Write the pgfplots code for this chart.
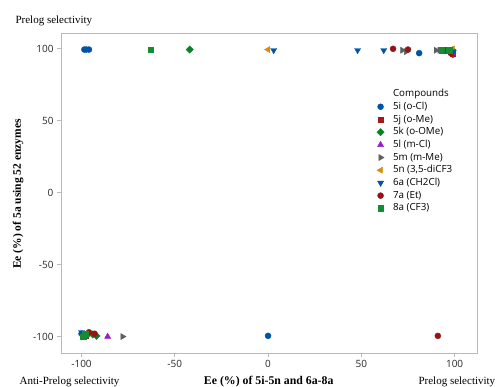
\documentclass[border=0pt]{standalone}
\usepackage{fontspec}
\setmainfont{Liberation Serif}
\newfontfamily\sff{Open Sans}
\usepackage{pgfplots}
\pgfplotsset{compat=1.18}
\definecolor{cblue}{RGB}{0,84,166}
\definecolor{cred}{RGB}{160,28,28}
\definecolor{cgreen}{RGB}{10,128,40}
\definecolor{cpurple}{RGB}{150,30,200}
\definecolor{cgray}{RGB}{95,95,95}
\definecolor{corange}{RGB}{215,140,10}
\definecolor{cdred}{RGB}{150,20,20}
\definecolor{cgreen2}{RGB}{20,140,50}
\begin{document}
\begin{tikzpicture}[x=1pt,y=1pt]
\useasboundingbox (0,0) rectangle (497,387);
\begin{axis}[at={(61pt,34pt)}, anchor=south west,
  scale only axis, width=416pt, height=320pt,
  xmin=-111, xmax=112, ymin=-111.4, ymax=111,
  xtick={-100,-50,0,50,100}, ytick={-100,-50,0,50,100},
  tick pos=left, tick align=outside, major tick length=4pt,
  axis line style={gray!55, line width=0.7pt},
  tick style={gray!55, line width=0.7pt},
  ticklabel style={font=\sff\fontsize{10}{11}\selectfont, text=black!85},
  /pgf/number format/assume math mode=true,
  legend style={at={(rel axis cs:0.740,0.833)}, anchor=north west, draw=none, fill=none,
    font=\sff\fontsize{9.8}{11}\selectfont, row sep=1.9pt, column sep=8pt,
    nodes={inner sep=0.8pt, text height=7.2pt, text depth=2pt}},
  legend cell align=left,
  every axis plot/.append style={only marks},
]
\addlegendimage{empty legend}
\addlegendentry{Compounds}
% 5i
\addplot[mark=*, mark size=3pt, color=cblue] coordinates {(-98.5,99.5)(-97.5,99.5)(-96,99.5)(81,97)(99,96)(-100,-98)(0,-99.5)};
\addlegendentry{5i (o-Cl)}
% 5j
\addplot[mark=square*, mark size=2.7pt, color=cred] coordinates {(96,99)(98,98)(99,97)(-99,-98)(-98,-99)};
\addlegendentry{5j (o-Me)}
% 5k
\addplot[mark=square*, mark size=2.6pt, mark options={rotate=45}, color=cgreen] coordinates {(-42,99.5)(99,99)(-97,-99)(-94,-98.5)(-92,-99.5)};
\addlegendentry{5k (o-OMe)}
% 5l
\addplot[mark=triangle*, mark size=3.5pt, color=cpurple] coordinates {(-86,-100)(99,97)(98,98)(-99,-99)};
\addlegendentry{5l (m-Cl)}
% 5m
\addplot[mark=triangle*, mark options={rotate=-90}, mark size=3.5pt, color=cgray] coordinates {(72,99)(74,98)(90,99)(92,99)(-78,-100)(-99,-98)};
\addlegendentry{5m (m-Me)}
% 5n
\addplot[mark=triangle*, mark options={rotate=90}, mark size=3.5pt, color=corange] coordinates {(0,99.5)(99,100)(-99,-99)};
\addlegendentry{5n (3,5-diCF3}
% 6a
\addplot[mark=triangle*, mark options={rotate=180}, mark size=3.5pt, color=cblue] coordinates {(3,99)(48,99)(62,99)(99,98)(-100,-97)(-99,-99)};
\addlegendentry{6a (CH2Cl)}
% 7a
\addplot[mark=*, mark size=3pt, color=cdred] coordinates {(67,100)(75,99.5)(97,99)(98,97)(91,-99.5)(-96,-97)(-93,-98)};
\addlegendentry{7a (Et)}
% 8a
\addplot[mark=square*, mark size=2.7pt, color=cgreen2] coordinates {(-63,99.5)(93,99)(97,99)(-98,-98)(-99,-100)};
\addlegendentry{8a (CF3)}
\end{axis}
\node[anchor=base west, font=\fontsize{11}{13}\selectfont] at (12,363) {Prelog selectivity};
\node[anchor=base east, font=\fontsize{11}{13}\selectfont] at (123,2) {Anti-Prelog selectivity};
\node[anchor=base west, font=\fontsize{11}{13}\selectfont] at (415,2) {Prelog selectivity};
\node[anchor=base east, font=\bfseries\fontsize{11.8}{13}\selectfont] at (337,2) {Ee (\%) of 5i-5n and 6a-8a};
\node[rotate=90, font=\bfseries\fontsize{11.5}{13}\selectfont] at (18,193) {Ee (\%) of 5a using 52 enzymes};
\end{tikzpicture}
\end{document}
